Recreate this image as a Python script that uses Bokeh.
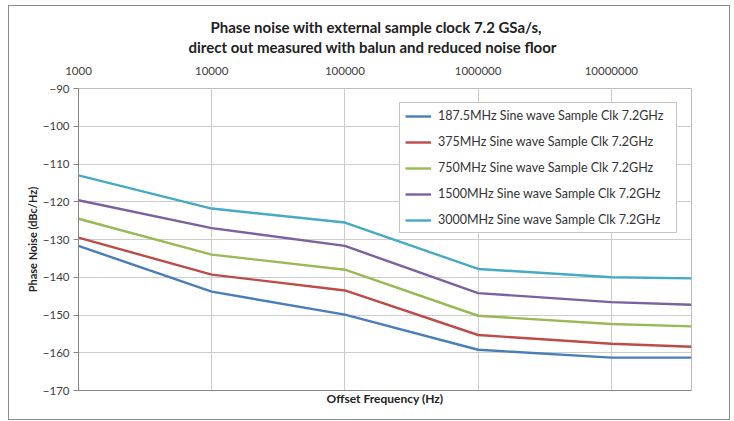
from bokeh.plotting import figure
from bokeh.models import Title, LogAxis, NumeralTickFormatter, FixedTicker, Range1d
from bokeh.embed import file_html
from bokeh.resources import INLINE

# Data
freq = [1000, 10000, 100000, 1000000, 10000000, 40000000]
s1875 = [-131.7, -143.8, -149.9, -159.2, -161.3, -161.3]
s375 = [-129.5, -139.3, -143.5, -155.3, -157.6, -158.4]
s750 = [-124.5, -134.0, -138.0, -150.2, -152.4, -153.0]
s1500 = [-119.6, -127.0, -131.7, -144.2, -146.6, -147.3]
s3000 = [-113.0, -121.8, -125.5, -137.8, -140.0, -140.3]
series_names = [
    "187.5MHz Sine wave Sample Clk 7.2GHz",
    "375MHz Sine wave Sample Clk 7.2GHz",
    "750MHz Sine wave Sample Clk 7.2GHz",
    "1500MHz Sine wave Sample Clk 7.2GHz",
    "3000MHz Sine wave Sample Clk 7.2GHz",
]
colors = ["#4A7EBB", "#BE4B48", "#98B954", "#7D60A0", "#46AAC5"]
x_ticks = [1000, 10000, 100000, 1000000, 10000000]
y_ticks = [-170, -160, -150, -140, -130, -120, -110, -100, -90]
title_line1 = "Phase noise with external sample clock 7.2 GSa/s,"
title_line2 = "direct out measured with balun and reduced noise floor"

FONT = "Lato"
TXT = "#404040"

p = figure(width=722, height=415, x_axis_type="log", x_axis_location="above",
           x_range=Range1d(1000, 40000000), y_range=Range1d(-170, -90),
           output_backend="svg", toolbar_location=None, title=None,
           min_border_left=69, min_border_right=40, min_border_bottom=31, min_border_top=82)
p.styles = {"border": "1px solid #8c8c8c", "box-sizing": "border-box",
            "margin-left": "8px", "margin-top": "5px"}

for ys, name, c in zip([s1875, s375, s750, s1500, s3000], series_names, colors):
    p.line(freq, ys, color=c, line_width=2.4, legend_label=name)

# top axis
xa = p.xaxis[0]
xa.ticker = FixedTicker(ticks=x_ticks)
xa.formatter = NumeralTickFormatter(format="0")
xa.major_tick_line_color = None
xa.minor_tick_line_color = None
xa.axis_line_color = None
xa.major_label_text_font = FONT
xa.major_label_text_font_size = "11.5px"
xa.major_label_text_color = TXT
xa.major_label_standoff = 8

# bottom axis with label only
xb = LogAxis(ticker=FixedTicker(ticks=x_ticks), axis_label="Offset Frequency (Hz)")
xb.major_label_text_color = None
xb.major_label_text_font_size = "0px"
xb.major_label_standoff = 0
xb.major_tick_line_color = None
xb.minor_tick_line_color = None
xb.axis_line_color = "#868686"
xb.axis_label_text_font = FONT
xb.axis_label_text_font_style = "bold"
xb.axis_label_text_font_size = "12px"
xb.axis_label_text_color = "#222222"
xb.axis_label_standoff = -6
p.add_layout(xb, "below")

ya = p.yaxis[0]
ya.ticker = FixedTicker(ticks=y_ticks)
ya.minor_tick_line_color = None
ya.major_tick_out = 5
ya.major_tick_in = 0
ya.major_tick_line_color = "#868686"
ya.axis_line_color = "#868686"
ya.major_label_text_font = FONT
ya.major_label_text_font_size = "11.5px"
ya.major_label_text_color = TXT
ya.major_label_standoff = 4
ya.axis_label = "Phase Noise (dBc/Hz)"
ya.axis_label_text_font = FONT
ya.axis_label_text_font_style = "bold"
ya.axis_label_text_font_size = "11px"
ya.axis_label_text_color = "#222222"
ya.axis_label_standoff = 1

p.xgrid.grid_line_color = "#cccccc"
p.ygrid.grid_line_color = "#cccccc"
p.outline_line_color = "#bdbdbd"

t2 = Title(text=title_line2, align="left", offset=110,
           text_font=FONT, text_font_size="15px", text_font_style="bold", text_color="#222222",
           standoff=16)
t1 = Title(text=title_line1, align="left", offset=132,
           text_font=FONT, text_font_size="15px", text_font_style="bold", text_color="#222222",
           standoff=-17)
p.add_layout(t2, "above")
p.add_layout(t1, "above")

lg = p.legend[0]
lg.location = "top_right"
lg.margin = 14
lg.border_line_color = "#8c8c8c"
lg.border_line_width = 1
lg.background_fill_alpha = 1
lg.label_text_font = FONT
lg.label_text_font_size = "12.5px"
lg.label_text_color = "#333333"
lg.glyph_width = 26
lg.glyph_height = 12
lg.label_height = 12
lg.label_width = 233
lg.label_standoff = 7
lg.spacing = 11
lg.padding = 5

open("out.html", "w").write(file_html(p, INLINE))
